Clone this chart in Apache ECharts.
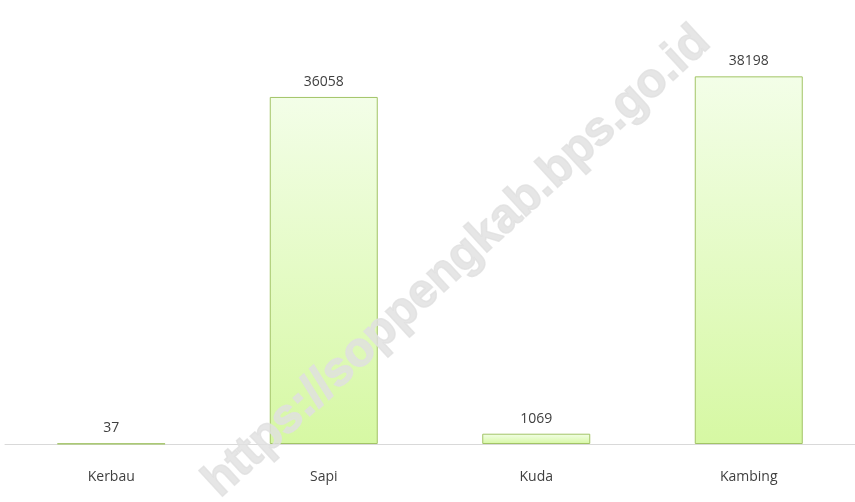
<!DOCTYPE html>
<html>
<head>
<meta charset="utf-8">
<script src="https://cdn.jsdelivr.net/npm/echarts@6/dist/echarts.min.js"></script>
<style>
    html, body {margin: 0; padding: 0; background: #fff;}
    #chart {width: 855px; height: 502px;}
</style>
</head>
<body>
<div id="chart"></div>
<script>
    // jenis ternak dan jumlahnya
    var categories = ['Kerbau', 'Sapi', 'Kuda', 'Kambing'];
    var values = [37, 36058, 1069, 38198];
    var watermark = 'https://soppengkab.bps.go.id';

    var chart = echarts.init(document.getElementById('chart'));

    var option = {
        animation: false,
        grid: {left: 5, right: -3, top: 59, bottom: 58},
        xAxis: {
            type: 'category',
            data: categories,
            axisLine: {lineStyle: {color: '#d9d9d9', width: 1}},
            axisTick: {show: false},
            axisLabel: {
                color: '#404040',
                fontFamily: 'Open Sans',
                fontSize: 14,
                margin: 26
            }
        },
        yAxis: {
            type: 'value',
            min: 0,
            max: 40000,
            show: false,
            splitLine: {show: false}
        },
        series: [{
            type: 'bar',
            data: values,
            barWidth: 108,
            itemStyle: {
                color: new echarts.graphic.LinearGradient(0, 0, 0, 1, [
                    {offset: 0, color: '#f3fee8'},
                    {offset: 1, color: '#d6f8a3'}
                ]),
                borderColor: '#a2c466',
                borderWidth: 1
            },
            label: {
                show: true,
                position: 'top',
                distance: 8,
                color: '#404040',
                fontFamily: 'Open Sans',
                fontSize: 14
            }
        }],
        graphic: [{
            type: 'text',
            x: 457,
            y: 262,
            rotation: 0.745,
            z: 100,
            silent: true,
            style: {
                text: watermark,
                font: 'bold 48px "Liberation Sans"',
                fill: 'rgb(224,224,224)',
                stroke: 'rgb(224,224,224)',
                lineWidth: 1.5,
                opacity: 0.8,
                align: 'center',
                verticalAlign: 'middle'
            }
        }]
    };

    chart.setOption(option);
</script>
</body>
</html>
